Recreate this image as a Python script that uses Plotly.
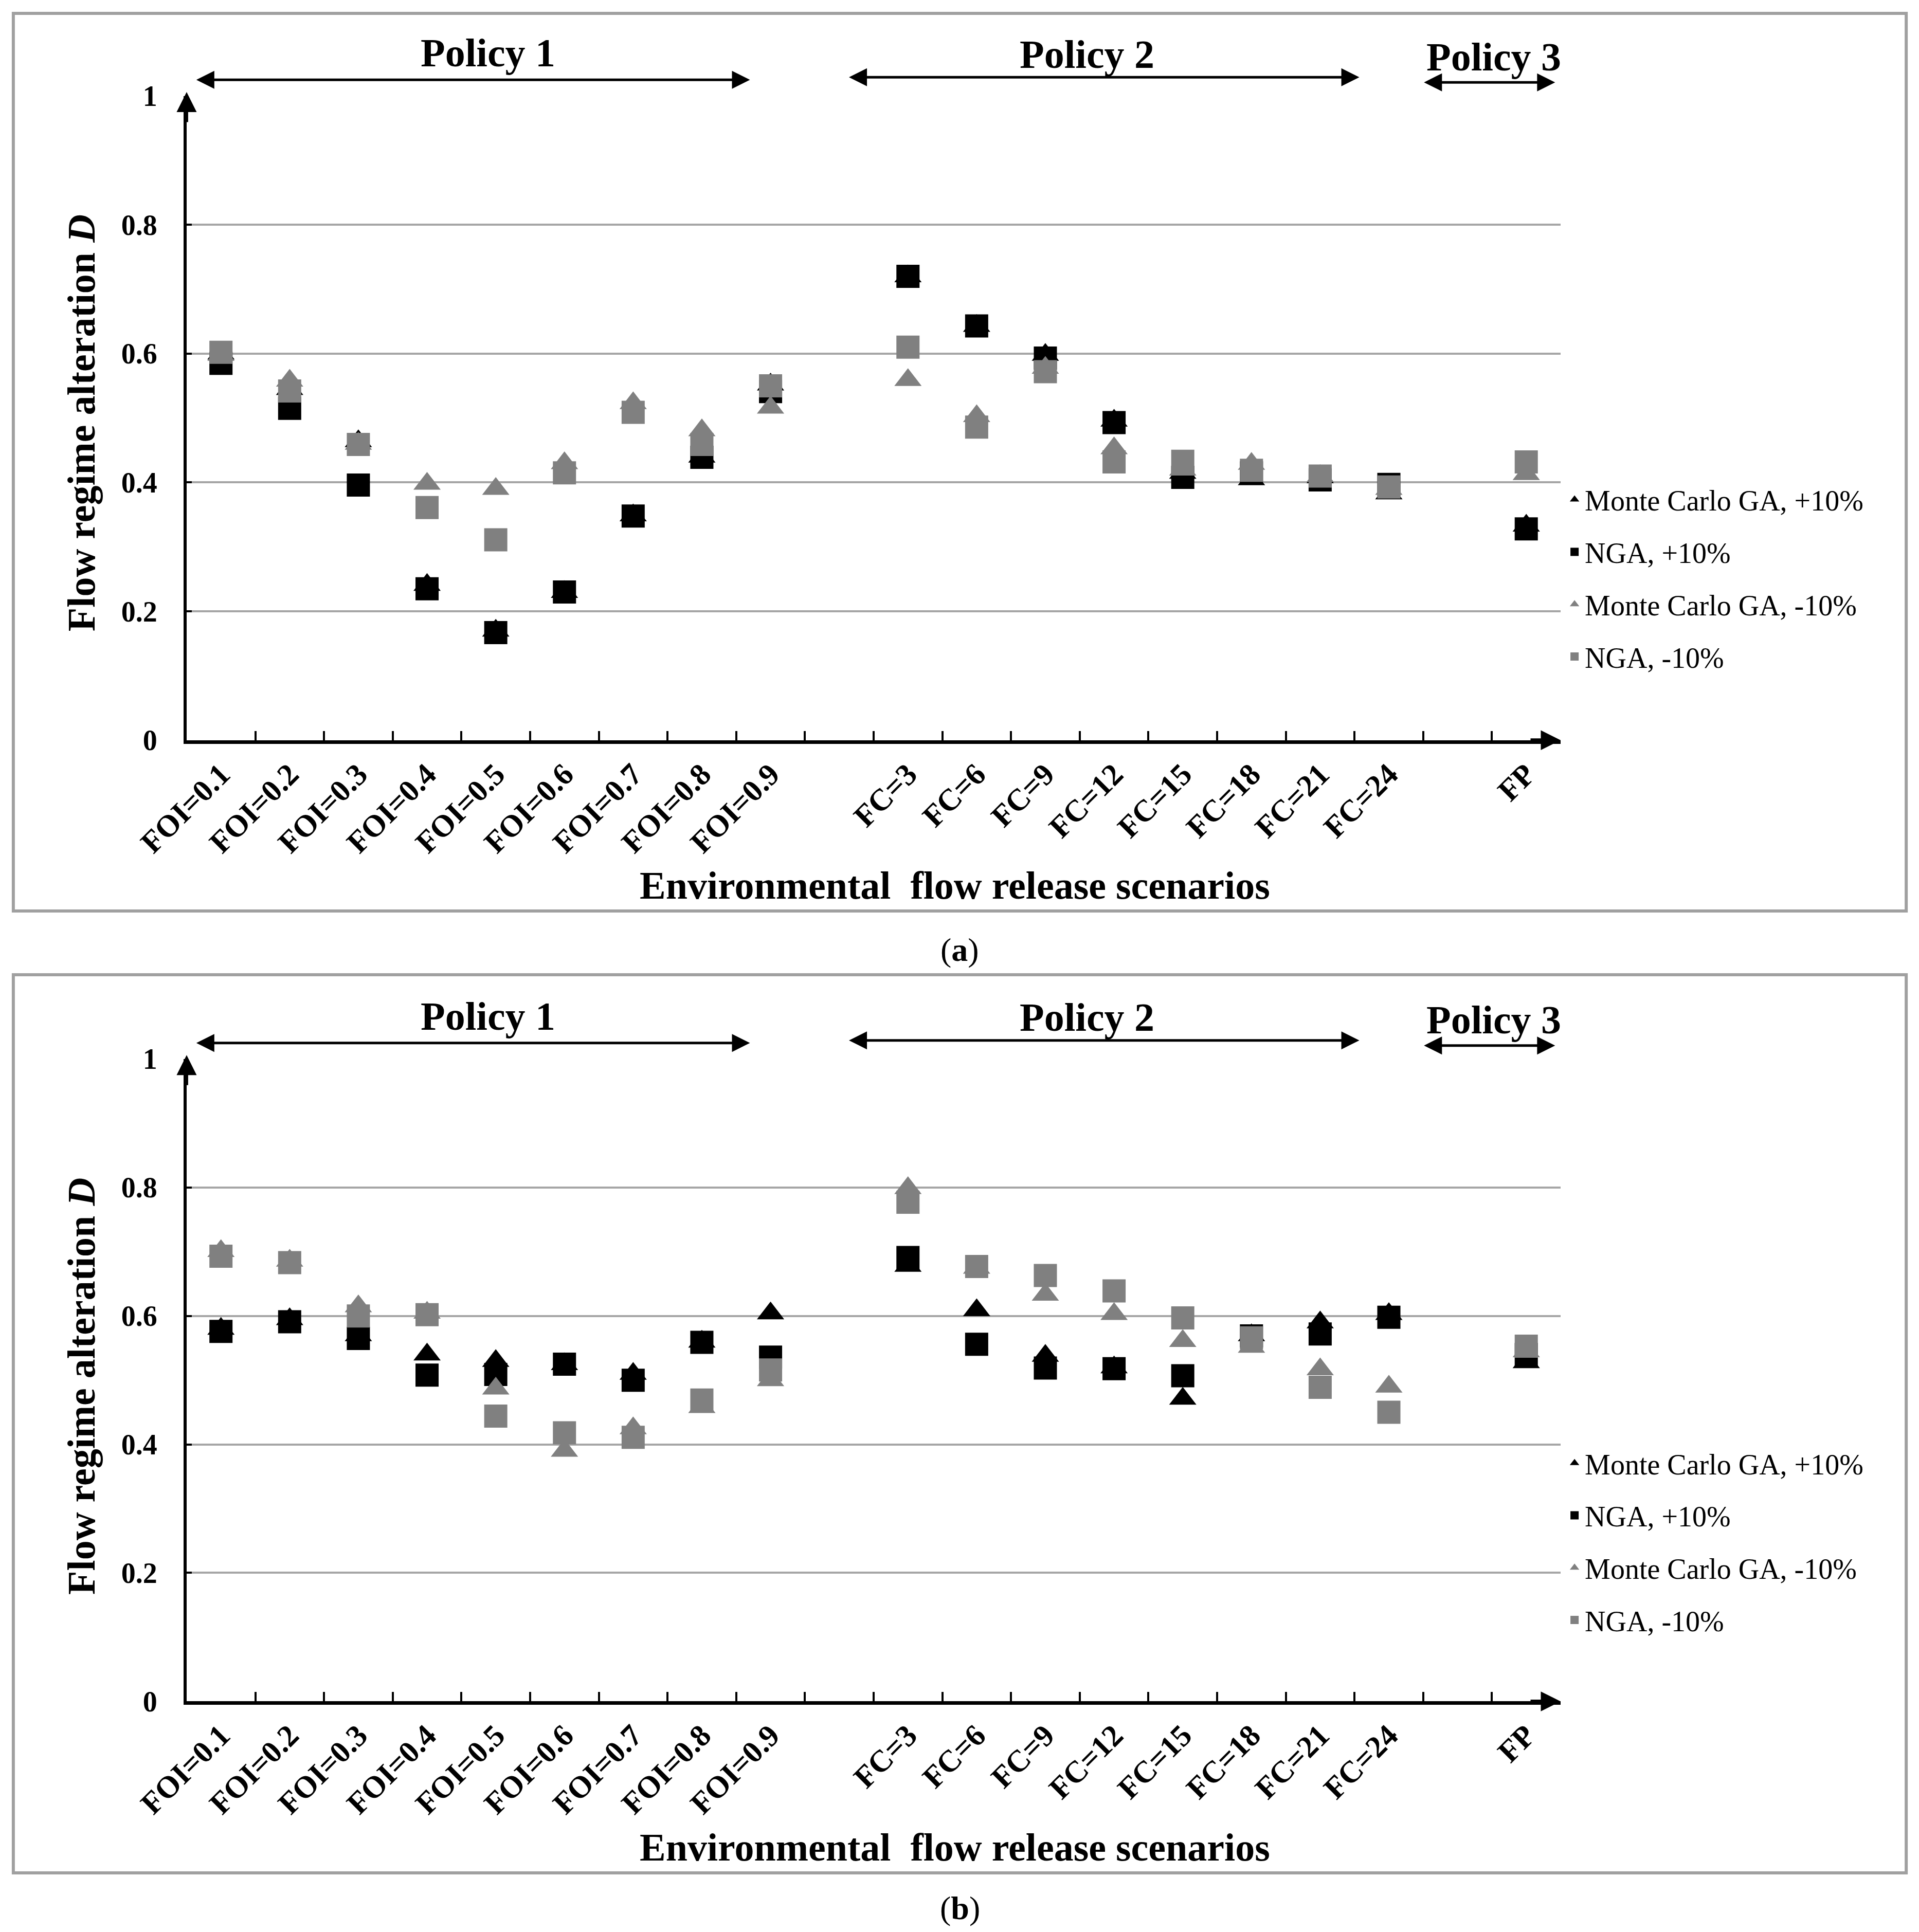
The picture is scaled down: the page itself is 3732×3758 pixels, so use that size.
import plotly.graph_objects as go

# scenario slots (two blank slots separate the three policies)
categories = ["FOI=0.1", "FOI=0.2", "FOI=0.3", "FOI=0.4", "FOI=0.5", "FOI=0.6",
              "FOI=0.7", "FOI=0.8", "FOI=0.9", " ",
              "FC=3", "FC=6", "FC=9", "FC=12", "FC=15", "FC=18", "FC=21", "FC=24",
              "  ", "FP"]

series_names = ["Monte Carlo GA, +10%", "NGA, +10%", "Monte Carlo GA, -10%", "NGA, -10%"]

# panel (a)
mc_plus_a = [0.600, 0.545, 0.464, 0.241, 0.170, 0.230, 0.349, 0.440, 0.552, None,
             0.720, 0.643, 0.598, 0.496, 0.415, 0.405, 0.408, 0.383, None, 0.333]
nga_plus_a = [0.585, 0.515, 0.396, 0.235, 0.167, 0.230, 0.348, 0.439, 0.541, None,
              0.720, 0.643, 0.593, 0.493, 0.408, 0.415, 0.404, 0.397, None, 0.328]
mc_minus_a = [0.598, 0.558, 0.460, 0.398, 0.390, 0.430, 0.523, 0.481, 0.516, None,
              0.559, 0.503, 0.578, 0.453, 0.420, 0.429, 0.410, 0.390, None, 0.413]
nga_minus_a = [0.602, 0.542, 0.459, 0.361, 0.311, 0.415, 0.509, 0.459, 0.550, None,
               0.610, 0.486, 0.572, 0.432, 0.433, 0.419, 0.410, 0.393, None, 0.432]

# panel (b)
mc_plus_b = [0.580, 0.595, 0.570, 0.540, 0.530, 0.525, 0.510, 0.560, 0.604, None,
             0.678, 0.609, 0.538, 0.520, 0.471, 0.570, 0.590, 0.603, None, 0.528]
nga_plus_b = [0.576, 0.591, 0.565, 0.508, 0.509, 0.525, 0.500, 0.559, 0.536, None,
              0.691, 0.556, 0.519, 0.518, 0.507, 0.569, 0.572, 0.598, None, 0.540]
mc_minus_b = [0.701, 0.686, 0.615, 0.605, 0.487, 0.390, 0.425, 0.458, 0.500, None,
              0.799, 0.675, 0.633, 0.603, 0.561, 0.552, 0.517, 0.490, None, 0.545]
nga_minus_b = [0.693, 0.683, 0.600, 0.602, 0.444, 0.418, 0.411, 0.469, 0.516, None,
               0.777, 0.677, 0.663, 0.639, 0.597, 0.566, 0.489, 0.450, None, 0.553]

# policy brackets: label, label x/y, arrow start/end x (slot index), arrow y
policies = [("Policy 1", 3.89, 1.067, -0.37, 7.70, 1.025),
            ("Policy 2", 12.61, 1.065, 9.13, 16.57, 1.029),
            ("Policy 3", 18.53, 1.061, 17.50, 19.42, 1.021)]

FONT = "Liberation Serif"
BLACK = "#000000"
GREY = "#808080"
styles = [("triangle-up", BLACK, 46), ("square", BLACK, 45),
          ("triangle-up", GREY, 46), ("square", GREY, 45)]

X_DOMAIN = [0.0951, 0.8111]
Y_DOMAIN_A = [0.6190, 0.9525]
Y_DOMAIN_B = [0.1215, 0.4540]

fig = go.Figure()

panels = [
    ("x", "y", "legend", [mc_plus_a, nga_plus_a, mc_minus_a, nga_minus_a]),
    ("x2", "y2", "legend2", [mc_plus_b, nga_plus_b, mc_minus_b, nga_minus_b]),
]
for xa, ya, leg, values in panels:
    for name, vals, (sym, col, size) in zip(series_names, values, styles):
        fig.add_trace(go.Scatter(
            x=categories, y=vals, mode="markers", name=name,
            marker=dict(symbol=sym, color=col, size=size, line=dict(width=0)),
            xaxis=xa, yaxis=ya, legend=leg, legendgroup=leg + name,
        ))


def x_axis(anchor):
    return dict(
        domain=X_DOMAIN, anchor=anchor, automargin=False,
        type="category", categoryorder="array", categoryarray=categories,
        range=[-0.5, 19.5], tickson="boundaries",
        showline=True, linecolor=BLACK, linewidth=7,
        ticks="inside", ticklen=18, tickwidth=4, tickcolor=BLACK,
        tickangle=-45, tickfont=dict(family=FONT, size=60, color=BLACK, weight="bold"),
        showgrid=False, zeroline=False,
    )


def y_axis(anchor, dom):
    return dict(
        domain=dom, anchor=anchor, automargin=False, range=[0, 1], dtick=0.2,
        showline=True, linecolor=BLACK, linewidth=6,
        ticks="inside", ticklen=10, tickwidth=4, tickcolor=BLACK,
        ticklabelstandoff=40,
        tickfont=dict(family=FONT, size=56, color=BLACK, weight="bold"),
        showgrid=True, gridcolor="#a6a6a6", gridwidth=4, zeroline=False,
    )


def to_paper(dom, v):
    # value on the 0..1 y axis -> paper fraction (annotations above the range are hidden otherwise)
    return dom[0] + v * (dom[1] - dom[0])


def text_note(x, y, text, size, xref="paper", angle=0):
    return dict(x=x, y=y, xref=xref, yref="paper", text=text, showarrow=False,
                xanchor="center", yanchor="middle", textangle=angle,
                font=dict(family=FONT, size=size, color=BLACK))


annotations = []
shapes = []
for xr, dom, y_title, x_title_y, caption, cap_y in [
        ("x", Y_DOMAIN_A, 0.7831, 0.5439, "(<b>a</b>)", 0.5104),
        ("x2", Y_DOMAIN_B, 0.2845, 0.0460, "(<b>b</b>)", 0.0144)]:
    for label, lx, ly, a0, a1, arrow_y in policies:
        annotations.append(text_note(lx, to_paper(dom, ly), "<b>%s</b>" % label, 78, xref=xr))
        annotations.append(dict(
            x=a1, y=to_paper(dom, arrow_y), ax=a0, ay=0, xref=xr, yref="paper",
            axref=xr, ayref="pixel",
            text="", showarrow=True, arrowside="end+start", arrowhead=2,
            arrowsize=1.4, arrowwidth=5, arrowcolor=BLACK))
    # axis arrow heads (Excel style)
    annotations.append(dict(
        x=-0.5, y=to_paper(dom, 1.006), ax=0, ay=60, xref=xr, yref="paper",
        axref="pixel", ayref="pixel",
        text="", showarrow=True, arrowhead=2, arrowsize=1.3, arrowwidth=6,
        arrowcolor=BLACK))
    annotations.append(dict(
        x=19.5, y=to_paper(dom, 0), ax=-60, ay=0, xref=xr, yref="paper",
        axref="pixel", ayref="pixel",
        text="", showarrow=True, arrowhead=2, arrowsize=1.1, arrowwidth=7,
        arrowcolor=BLACK))
    annotations.append(text_note(0.0402, y_title,
                                 "<b>Flow regime alteration <i>D</i></b>", 76, angle=-90))
    annotations.append(text_note(0.4954, x_title_y,
                                 "<b>Environmental  flow release scenarios</b>", 76))
    annotations.append(text_note(0.498, cap_y, caption, 64))

# frames around each panel
for y0, y1 in [(0.5306, 0.9952), (0.0327, 0.4976)]:
    shapes.append(dict(type="rect", xref="paper", yref="paper",
                       x0=0.0048, x1=0.9912, y0=y0, y1=y1,
                       line=dict(color="#a0a0a0", width=6), layer="below"))

legend_style = dict(font=dict(family=FONT, size=56, color=BLACK),
                    bgcolor="rgba(0,0,0,0)", tracegroupgap=26,
                    xanchor="left", yanchor="top", x=0.813)

fig.update_layout(
    template="none",
    width=3732, height=3758,
    margin=dict(l=0, r=0, t=0, b=0, autoexpand=False),
    paper_bgcolor="white", plot_bgcolor="white",
    font=dict(family=FONT, color=BLACK),
    xaxis=x_axis("y"), yaxis=y_axis("x", Y_DOMAIN_A),
    xaxis2=x_axis("y2"), yaxis2=y_axis("x2", Y_DOMAIN_B),
    legend=dict(legend_style, y=0.755),
    legend2=dict(legend_style, y=0.2563),
    annotations=annotations, shapes=shapes,
    showlegend=True,
)

fig.write_html("out.html")
